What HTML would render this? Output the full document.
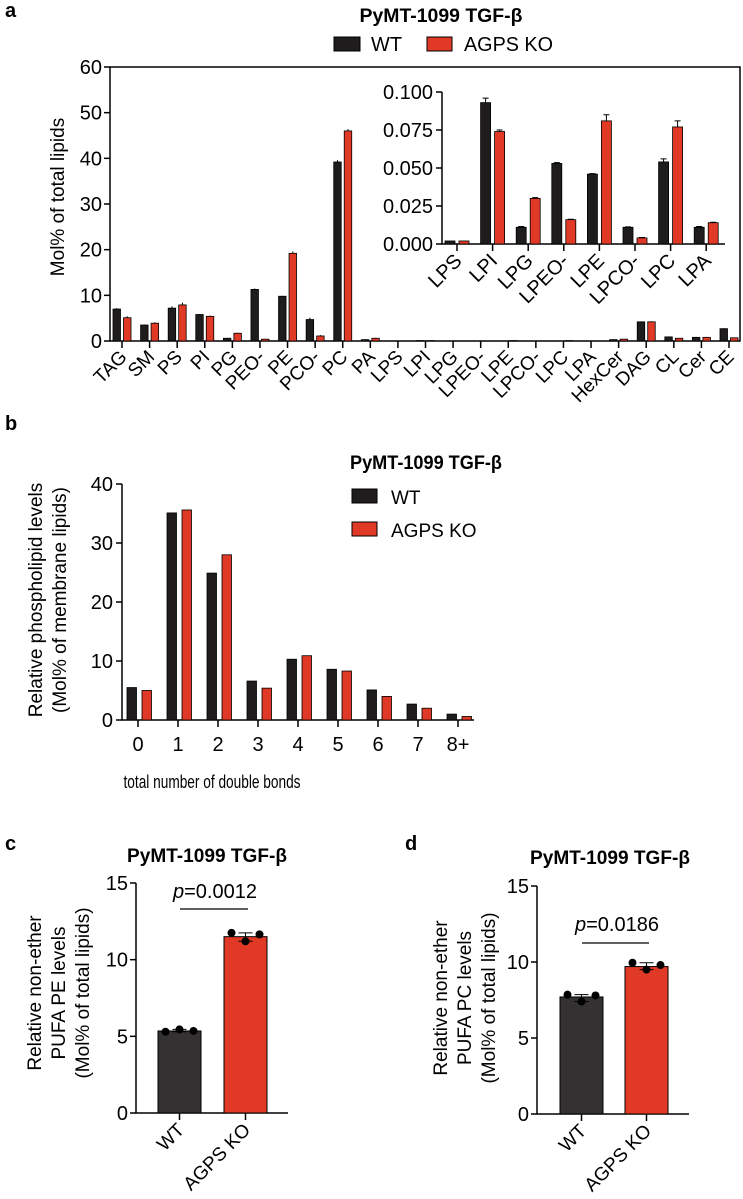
<!DOCTYPE html>
<html><head><meta charset="utf-8">
<style>
html,body{margin:0;padding:0;background:#fff;}
svg{display:block;font-family:"Liberation Sans",Arial,sans-serif;}
</style></head>
<body>
<svg id="fig" width="743" height="1199" viewBox="0 0 743 1199" xmlns="http://www.w3.org/2000/svg">
<g id="pa"></g>
<g id="pb"></g>
<g id="pc"></g>
<g id="pd"></g>
</svg>
<script>
// ---- Panel a data ----
const aCategories = ["TAG","SM","PS","PI","PG","PEO-","PE","PCO-","PC","PA","LPS","LPI","LPG","LPEO-","LPE","LPCO-","LPC","LPA","HexCer","DAG","CL","Cer","CE"];
const aWT = [7.0,3.5,7.2,5.8,0.6,11.3,9.8,4.7,39.2,0.3,0.002,0.093,0.011,0.053,0.046,0.011,0.054,0.011,0.3,4.2,0.9,0.8,2.7];
const aKO = [5.1,3.9,7.9,5.4,1.7,0.4,19.2,1.1,46.0,0.6,0.002,0.074,0.030,0.016,0.081,0.004,0.077,0.014,0.4,4.2,0.6,0.8,0.7];
const aWTerr = [0.2,0.1,0.4,0.1,0.05,0.2,0.1,0.4,0.4,0.05,0,0,0,0,0,0,0,0,0.05,0.1,0.1,0.1,0.1];
const aKOerr = [0.3,0.2,0.5,0.2,0.1,0.05,0.4,0.2,0.4,0.1,0,0,0,0,0,0,0,0,0.05,0.1,0.05,0.1,0.05];
const aTicks = [0,10,20,30,40,50,60];
// ---- Inset ----
const insetCategories = ["LPS","LPI","LPG","LPEO-","LPE","LPCO-","LPC","LPA"];
const insetWT = [0.002,0.093,0.011,0.053,0.046,0.011,0.054,0.011];
const insetKO = [0.002,0.074,0.030,0.016,0.081,0.004,0.077,0.014];
const insetWTerr = [0,0.003,0.0005,0.0005,0.0003,0.0003,0.002,0.0005];
const insetKOerr = [0,0.001,0.0005,0.0003,0.004,0.0003,0.004,0.0003];
const insetTicks = ["0.000","0.025","0.050","0.075","0.100"];
// ---- Panel b ----
const bCategories = ["0","1","2","3","4","5","6","7","8+"];
const bWT = [5.5,35.1,24.9,6.6,10.3,8.6,5.1,2.7,1.0];
const bKO = [5.0,35.6,28.0,5.4,10.9,8.3,4.0,2.0,0.6];
const bTicks = [0,10,20,30,40];
// ---- Panel c ----
const cGroups = ["WT","AGPS KO"];
const cMeans = [5.35,11.5];
const cWTpts = [5.3,5.45,5.35];
const cKOpts = [11.75,11.2,11.65];
const cTicks = [0,5,10,15];
// ---- Panel d ----
const dGroups = ["WT","AGPS KO"];
const dMeans = [7.7,9.7];
const dWTpts = [7.85,7.4,7.8];
const dKOpts = [9.95,9.5,9.8];
const dTicks = [0,5,10,15];

const NS="http://www.w3.org/2000/svg";
const BLACK="#1e1c1d", RED="#e03a26";
function mk(parent,tag,attrs,text){
  const e=document.createElementNS(NS,tag);
  for(const k in attrs) e.setAttribute(k,attrs[k]);
  if(text!==undefined) e.textContent=text;
  parent.appendChild(e); return e;
}

// ================= Panel a =================
(function(){
  const g=document.getElementById('pa');
  const t1=mk(g,'text',{x:5,y:17,'font-size':20,'font-weight':'bold'},'a');
   
  const t2=mk(g,'text',{x:441,y:22,'font-size':19,'font-weight':'bold','text-anchor':'middle',textLength:163,lengthAdjust:'spacingAndGlyphs'},'PyMT-1099 TGF-β');
   
  const l1=mk(g,'rect',{x:334,y:37,width:26,height:14,fill:BLACK,stroke:'#000'});
   
  const l2=mk(g,'text',{x:371,y:51,'font-size':20,textLength:31,lengthAdjust:'spacingAndGlyphs'},'WT');
   
  const l3=mk(g,'rect',{x:427,y:37,width:25,height:14,fill:RED,stroke:'#000'});
   
  const l4=mk(g,'text',{x:464,y:51,'font-size':20,textLength:89,lengthAdjust:'spacingAndGlyphs'},'AGPS KO');
   

  const x0=110,x1=740,yTop=67,yBot=341,vmax=60;
  const y=v=>yBot-(v/vmax)*(yBot-yTop);
  const cx=i=>122+i*(729-122)/(aCategories.length-1);
  const fr=mk(g,'rect',{x:x0,y:yTop,width:x1-x0,height:yBot-yTop,fill:'none',stroke:'#000','stroke-width':1.5});
   
  aTicks.forEach(t=>{
    const tl=mk(g,'line',{x1:x0-6,x2:x0,y1:y(t),y2:y(t),stroke:'#000','stroke-width':1.5});
     
    const tt=mk(g,'text',{x:x0-8,y:y(t)+7,'font-size':20,'text-anchor':'end'},String(t));
     
  });
  const yl=mk(g,'text',{x:0,y:0,'font-size':19,'text-anchor':'middle',transform:'translate(64,197) rotate(-90)'},'Mol% of total lipids');
   
  aCategories.forEach((c,i)=>{
    const x=cx(i);
    const tk=mk(g,'line',{x1:x,x2:x,y1:yBot,y2:yBot+7,stroke:'#000','stroke-width':1.5});
     
    const lb=mk(g,'text',{x:0,y:0,'font-size':19,'text-anchor':'end',transform:`translate(${x+6},${yBot+17}) rotate(-45)`},c);
     
    [[aWT,aWTerr,BLACK,-9],[aKO,aKOerr,RED,1.5]].forEach(([vals,errs,col,off])=>{
      const v=vals[i]; const h=yBot-y(v);
      if(h>0.3){
        const b=mk(g,'rect',{x:x+off,y:y(v),width:7.5,height:h,fill:col,stroke:'#000','stroke-width':0.8});
         
        if(errs[i]>0){
          const e=mk(g,'line',{x1:x+off+3.75,x2:x+off+3.75,y1:y(v+errs[i]),y2:y(v),stroke:'#000','stroke-width':1});
           
        }
      }
    });
  });

  // inset
  const ix0=442,ix1=725,iyTop=92,iyBot=244,imax=0.1;
  const iy=v=>iyBot-(v/imax)*(iyBot-iyTop);
  const icx=i=>457+i*35.6;
  const ia=mk(g,'path',{d:`M${ix0},${iyTop} V${iyBot} H${ix1}`,fill:'none',stroke:'#000','stroke-width':1.5});
   
  insetTicks.forEach(t=>{
    const v=parseFloat(t);
    const tl=mk(g,'line',{x1:ix0-6,x2:ix0,y1:iy(v),y2:iy(v),stroke:'#000','stroke-width':1.5});
     
    const tt=mk(g,'text',{x:ix0-9,y:iy(v)+7,'font-size':20,'text-anchor':'end'},t);
     
  });
  insetCategories.forEach((c,i)=>{
    const x=icx(i);
    const tk=mk(g,'line',{x1:x,x2:x,y1:iyBot,y2:iyBot+7,stroke:'#000','stroke-width':1.5});
     
    const lb=mk(g,'text',{x:0,y:0,'font-size':20,'text-anchor':'end',transform:`translate(${x+6},${iyBot+18}) rotate(-45)`},c);
     
    [[insetWT,insetWTerr,BLACK,-12],[insetKO,insetKOerr,RED,2]].forEach(([vals,errs,col,off])=>{
      const v=vals[i];
      const b=mk(g,'rect',{x:x+off,y:iy(v),width:10,height:iyBot-iy(v),fill:col,stroke:'#000','stroke-width':0.8});
       
      if(errs[i]>0){
        const e=mk(g,'path',{d:`M${x+off+5},${iy(v)} V${iy(v+errs[i])} M${x+off+2},${iy(v+errs[i])} H${x+off+8}`,stroke:'#000','stroke-width':1,fill:'none'});
         
      }
    });
  });
})();

// ================= Panel b =================
(function(){
  const g=document.getElementById('pb');
  const t=mk(g,'text',{x:5,y:430,'font-size':20,'font-weight':'bold'},'b');
   
  const x0=122,x1=474,yTop=484,yBot=720,vmax=40;
  const y=v=>yBot-(v/vmax)*(yBot-yTop);
  const cx=i=>138+i*40;
  const ax=mk(g,'path',{d:`M${x0},${yTop} V${yBot} H${x1}`,fill:'none',stroke:'#000','stroke-width':1.5});
   
  bTicks.forEach(v=>{
    const tl=mk(g,'line',{x1:x0-6,x2:x0,y1:y(v),y2:y(v),stroke:'#000','stroke-width':1.5});
     
    const tt=mk(g,'text',{x:x0-9,y:y(v)+7,'font-size':20,'text-anchor':'end'},String(v));
     
  });
  bCategories.forEach((c,i)=>{
    const x=cx(i);
    const tk=mk(g,'line',{x1:x,x2:x,y1:yBot,y2:yBot+7,stroke:'#000','stroke-width':1.5});
     
    const lb=mk(g,'text',{x:x,y:yBot+31,'font-size':20,'text-anchor':'middle'},c);
     
    [[bWT,BLACK,-11],[bKO,RED,4]].forEach(([vals,col,off])=>{
      const v=vals[i];
      const b=mk(g,'rect',{x:x+off,y:y(v),width:9.5,height:yBot-y(v),fill:col,stroke:'#000','stroke-width':0.8});
       
    });
  });
  const xt=mk(g,'text',{x:212,y:788,'font-size':18,'text-anchor':'middle',textLength:177,lengthAdjust:'spacingAndGlyphs'},'total number of double bonds');
   
  const y1=mk(g,'text',{x:0,y:0,'font-size':19,'text-anchor':'middle',transform:'translate(42,600) rotate(-90)'},'Relative phospholipid levels');
   
  const y2=mk(g,'text',{x:0,y:0,'font-size':19,'text-anchor':'middle',transform:'translate(66,600) rotate(-90)'},'(Mol% of membrane lipids)');
   
  const ti=mk(g,'text',{x:350,y:469,'font-size':19,'font-weight':'bold',textLength:152,lengthAdjust:'spacingAndGlyphs'},'PyMT-1099 TGF-β');
   
  const s1=mk(g,'rect',{x:352,y:489,width:25,height:14,fill:BLACK,stroke:'#000'});
   
  const s1t=mk(g,'text',{x:391,y:504,'font-size':19},'WT');
   
  const s2=mk(g,'rect',{x:352,y:522,width:25,height:14,fill:RED,stroke:'#000'});
   
  const s2t=mk(g,'text',{x:391,y:537,'font-size':19},'AGPS KO');
   
})();

// ================= Panels c & d =================
function dotPanel(id,cfg){
  const g=document.getElementById(id);
  const L=mk(g,'text',{x:cfg.lx,y:850,'font-size':20,'font-weight':'bold'},cfg.letter);
   
  const T=mk(g,'text',{x:cfg.tx,y:cfg.ty,'font-size':19,'font-weight':'bold','text-anchor':'middle',textLength:160,lengthAdjust:'spacingAndGlyphs'},'PyMT-1099 TGF-β');
   
  const {x0,x1,yTop,yBot}=cfg; const vmax=15;
  const y=v=>yBot-(v/vmax)*(yBot-yTop);
  const ax=mk(g,'path',{d:`M${x0},${yTop} V${yBot} H${x1}`,fill:'none',stroke:'#000','stroke-width':1.5});
   
  cfg.ticks.forEach(v=>{
    const tl=mk(g,'line',{x1:x0-6,x2:x0,y1:y(v),y2:y(v),stroke:'#000','stroke-width':1.5});
     
    const tt=mk(g,'text',{x:x0-8,y:y(v)+7,'font-size':20,'text-anchor':'end'},String(v));
     
  });
  cfg.groups.forEach((gr,i)=>{
    const bx=cfg.barX[i], w=43, c=bx+w/2, v=cfg.means[i];
    const b=mk(g,'rect',{x:bx,y:y(v),width:w,height:yBot-y(v),fill:i?RED:'#333132',stroke:'#000','stroke-width':1});
     
    const tk=mk(g,'line',{x1:c,x2:c,y1:yBot,y2:yBot+7,stroke:'#000','stroke-width':1.5});
     
    const lb=mk(g,'text',{x:0,y:0,'font-size':19,'text-anchor':'end',transform:`translate(${c+6},${yBot+18}) rotate(-45)`},gr);
     
    const pts=cfg.pts[i];
    const mn=Math.min(...pts), mxv=Math.max(...pts);
    const eb=mk(g,'path',{d:`M${c-7},${y(mxv)} H${c+7} M${c},${y(mxv)} V${y(mn)} M${c-7},${y(mn)} H${c+7}`,stroke:'#000','stroke-width':1,fill:'none'});
     
    pts.forEach((p,j)=>{
      const d=mk(g,'circle',{cx:c+(j-1)*14,cy:y(p),r:4,fill:'#000'});
       
    });
  });
  const pt=mk(g,'text',{x:cfg.px,y:cfg.py,'font-size':20,'text-anchor':'middle'});
   
  const it=mk(pt,'tspan',{'font-style':'italic'},'p');
  const rt=mk(pt,'tspan',{},'='+cfg.p);
  const bl=mk(g,'line',{x1:cfg.lineX[0],x2:cfg.lineX[1],y1:cfg.lineY,y2:cfg.lineY,stroke:'#000','stroke-width':1.2});
   
  cfg.ylab.forEach((s,k)=>{
    const yt=mk(g,'text',{x:0,y:0,'font-size':19,'text-anchor':'middle',transform:`translate(${cfg.ylx[k]},${cfg.lyc}) rotate(-90)`},s);
     
  });
}
dotPanel('pc',{letter:'c',lx:5,tx:207,ty:862,x0:136,x1:288,yTop:883,yBot:1113,ticks:cTicks,groups:cGroups,means:cMeans,pts:[cWTpts,cKOpts],
  barX:[158,224],p:'0.0012',px:215,py:898,lineX:[180,248],lineY:909,
  ylab:['Relative non-ether','PUFA PE levels','(Mol% of total lipids)'],ylx:[41,65,89],lyc:993});
dotPanel('pd',{letter:'d',lx:405,tx:610,ty:864,x0:537,x1:689,yTop:886,yBot:1114,ticks:dTicks,groups:dGroups,means:dMeans,pts:[dWTpts,dKOpts],
  barX:[560,625],p:'0.0186',px:617,py:931,lineX:[582,649],lineY:943,
  ylab:['Relative non-ether','PUFA PC levels','(Mol% of total lipids)'],ylx:[447,471,495],lyc:998});
</script>
</body></html>
